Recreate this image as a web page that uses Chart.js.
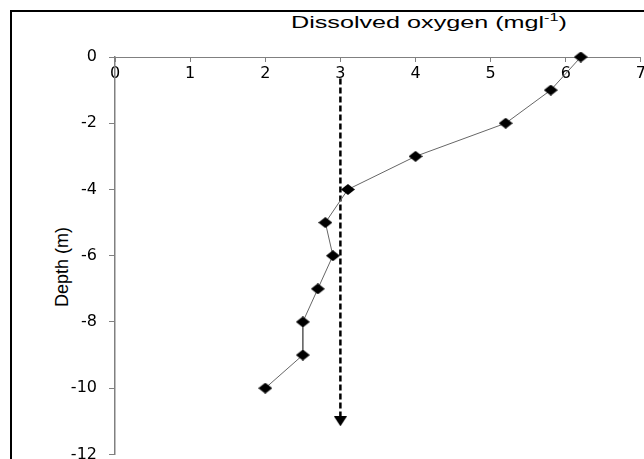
<!DOCTYPE html>
<html>
<head>
<meta charset="utf-8">
<script src="https://cdn.jsdelivr.net/npm/chart.js@4/dist/chart.umd.min.js"></script>
<style>
    html, body { margin: 0; padding: 0; background: #fff; overflow: hidden; }
    #wrap { position: relative; width: 644px; height: 459px; overflow: hidden; }
    #frame { position: absolute; left: 10px; top: 10px; width: 700px; height: 500px; border: 2px solid #000; box-sizing: border-box; }
    #title { position: absolute; left: 291px; top: 14px; font: 17px/17px "Liberation Sans", Arial, sans-serif; color: #000; white-space: nowrap; transform: scaleX(1.48); transform-origin: 0 0; }
    #title sup { font-size: 11px; line-height: 0; }
    #ytitle { position: absolute; left: 12px; top: 258px; width: 100px; height: 18px; text-align: center; font: 18px/18px "Liberation Sans", Arial, sans-serif; color: #000; white-space: nowrap; transform: rotate(-90deg); transform-origin: 50% 50%; }
    canvas { position: absolute; left: 0; top: 0; }
</style>
</head>
<body>
<div id="wrap">
    <div id="frame"></div>
    <div id="title">Dissolved oxygen (mgl<sup>-1</sup>)</div>
    <div id="ytitle">Depth (m)</div>
    <!-- drawn a little larger than the window: the original is cropped at right and bottom -->
    <canvas id="doChart" width="649" height="476"></canvas>
</div>
<script>
// Data
const depths = [0, -1, -2, -3, -4, -5, -6, -7, -8, -9, -10];
const oxygen = [6.2, 5.8, 5.2, 4.0, 3.1, 2.8, 2.9, 2.7, 2.5, 2.5, 2.0];

// Dashed arrow at 3 mg/l
const arrowX = [3, 3];
const arrowDepth = [-0.65, -11];

// Axis ticks
const xTicks = [0, 1, 2, 3, 4, 5, 6, 7];
const yTicks = [0, -2, -4, -6, -8, -10, -12];

const tickFont = { family: '"DejaVu Sans", sans-serif', size: 16 };

// Marker images (slightly wider than tall, like the original)
function makeMarker(w, h, pts) {
    const c = document.createElement('canvas');
    c.width = w;
    c.height = h;
    const g = c.getContext('2d');
    g.fillStyle = '#000';
    g.beginPath();
    pts.forEach((p, i) => i ? g.lineTo(p[0], p[1]) : g.moveTo(p[0], p[1]));
    g.closePath();
    g.fill();
    return c;
}
const diamond = makeMarker(14, 11, [[0, 5.5], [7, 0], [14, 5.5], [7, 11]]);
const arrowHead = makeMarker(13, 10, [[0, 0], [13, 0], [6.5, 10]]);

const ctx = document.getElementById('doChart').getContext('2d');

new Chart(ctx, {
    type: 'scatter',
    data: {
        datasets: [
            {
                data: oxygen.map((x, i) => ({ x: x, y: depths[i] })),
                showLine: true,
                borderColor: '#666',
                borderWidth: 1,
                pointStyle: diamond,
                pointRadius: 6,
                clip: false
            },
            {
                data: arrowX.map((x, i) => ({ x: x, y: arrowDepth[i] })),
                showLine: true,
                borderColor: '#000',
                borderWidth: 2.5,
                borderDash: [6, 3],
                pointStyle: [false, arrowHead],
                pointRadius: [0, 6],
                clip: false
            }
        ]
    },
    options: {
        responsive: false,
        animation: false,
        events: [],
        layout: { autoPadding: false, padding: { left: 0, top: 57, right: 6, bottom: 6 } },
        plugins: {
            legend: { display: false },
            tooltip: { enabled: false }
        },
        scales: {
            x: {
                type: 'linear',
                axis: 'x',
                position: { y: 0 },
                min: xTicks[0],
                max: xTicks[xTicks.length - 1],
                afterBuildTicks: (s) => { s.ticks = xTicks.map(v => ({ value: v })); },
                afterFit: (s) => { s.height = 0; },
                ticks: { color: '#000', font: tickFont, padding: 3 },
                grid: { drawOnChartArea: false, drawTicks: true, tickLength: 4, color: '#808080' },
                border: { display: true, color: '#808080', width: 1 }
            },
            y: {
                type: 'linear',
                position: 'left',
                min: yTicks[yTicks.length - 1],
                max: yTicks[0],
                afterBuildTicks: (s) => { s.ticks = yTicks.map(v => ({ value: v })); },
                afterFit: (s) => { s.width = 115; },
                ticks: { color: '#000', font: tickFont, padding: 12 },
                grid: { drawOnChartArea: false, drawTicks: true, tickLength: 6, color: '#808080' },
                border: { display: true, color: '#808080', width: 1.5 }
            }
        }
    }
});
</script>
</body>
</html>
